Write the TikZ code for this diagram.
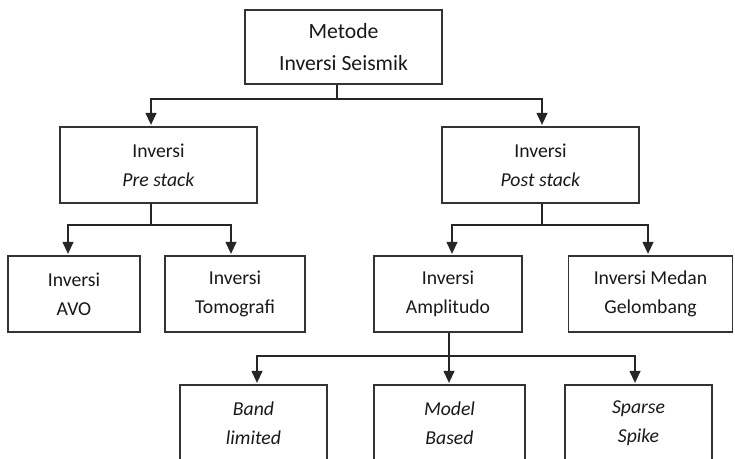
\documentclass[tikz,border=0pt]{standalone}
\usepackage{fontspec}
\setmainfont{Carlito}
\usetikzlibrary{arrows.meta}
\begin{document}
\begin{tikzpicture}[x=1pt,y=-1pt,
  box/.style={draw=black!80, line width=1.3pt, align=center, inner sep=0pt,
    font=\fontsize{19.7}{29}\selectfont, text=black!90, minimum height=76pt},
  bigbox/.style={box, font=\fontsize{21.7}{32}\selectfont, minimum height=74pt},
  conn/.style={draw=black!85, line width=1.3pt},
  arr/.style={conn, -{Triangle[width=11pt,length=12pt]}, shorten >=1.5pt}]
\clip (0,0) rectangle (735,458);
\fill[white] (0,0) rectangle (735,458);
% nodes
\node[bigbox, minimum width=197pt] (top) at (343.5,47) {Metode\\Inversi Seismik};
\node[box, minimum width=197pt] (pre) at (158.5,165) {Inversi\\\textit{Pre stack}};
\node[box, minimum width=197pt] (post) at (540.5,165) {Inversi\\\textit{Post stack}};
\node[box, minimum width=132pt] (avo) at (74,294) {Inversi\\AVO};
\node[box, minimum width=140pt] (tomo) at (235,294) {Inversi\\Tomografi};
\node[box, minimum width=148pt] (amp) at (448,294) {Inversi\\Amplitudo};
\node[box, minimum width=164pt] (medan) at (650.5,294) {Inversi Medan\\Gelombang};
\node[box, minimum width=147pt] (band) at (253.5,423) {\textit{Band}\\\textit{limited}};
\node[box, minimum width=151pt] (model) at (449.5,423) {\textit{Model}\\\textit{Based}};
\node[box, minimum width=147pt] (sparse) at (638.5,423) {\textit{Sparse}\\\textit{Spike}};
% junctions
\coordinate (j1) at (337,99);
\coordinate (j2) at (151,225);
\coordinate (j3) at (542,225);
\coordinate (j4) at (449,356);
% connectors
\draw[conn] (top.south -| j1) -- (j1);
\draw[arr] (j1) -| ([xshift=-7.5pt]pre.north);
\draw[arr] (j1) -| ([xshift=1.5pt]post.north);
\draw[conn] (pre.south -| j2) -- (j2);
\draw[arr] (j2) -| ([xshift=-6pt]avo.north);
\draw[arr] (j2) -| ([xshift=-4pt]tomo.north);
\draw[conn] (post.south -| j3) -- (j3);
\draw[arr] (j3) -| ([xshift=4pt]amp.north);
\draw[arr] (j3) -| ([xshift=-2.5pt]medan.north);
\draw[arr] (amp.south -| j4) -- (model.north -| j4);
\draw[arr] (j4) -| ([xshift=3.5pt]band.north);
\draw[arr] (j4) -| ([xshift=-3.5pt]sparse.north);
\end{tikzpicture}
\end{document}
